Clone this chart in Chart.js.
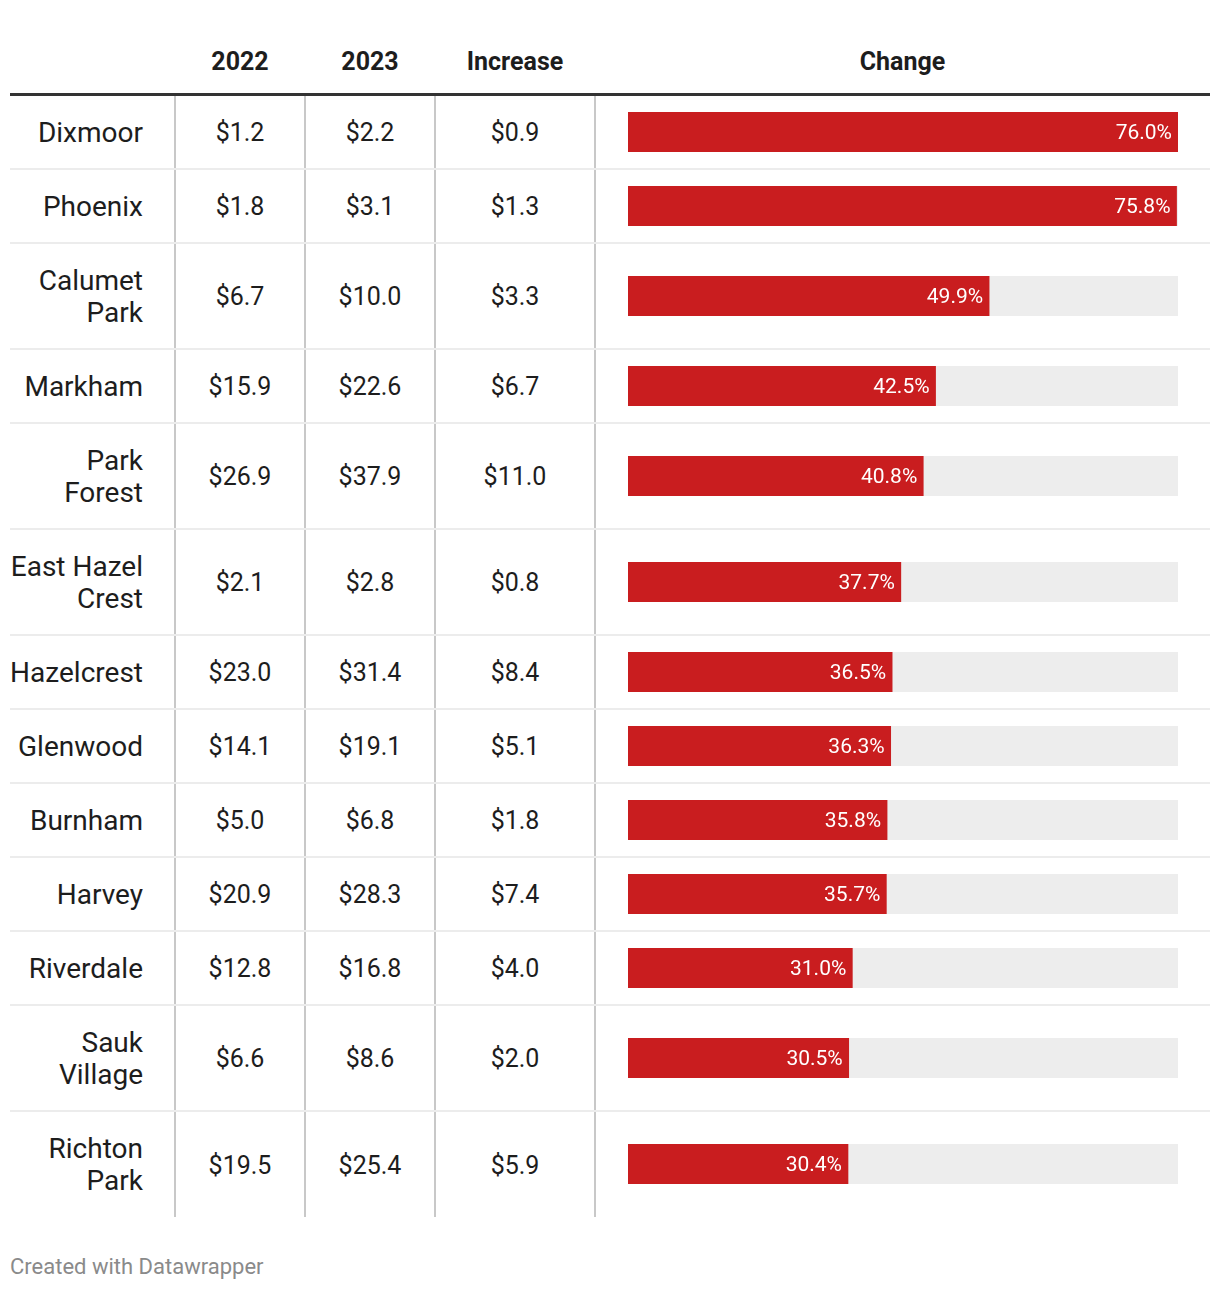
<!DOCTYPE html>
<html>
<head>
<meta charset="utf-8">
<script src="https://cdn.jsdelivr.net/npm/chart.js@4"></script>
<style>
  body { margin: 0; background: #fff; font-family: Roboto, 'Noto Sans', sans-serif; color: #1d1d1d; }
  #wrap { position: absolute; left: 10px; top: 10px; width: 1200px; }
  table { border-collapse: collapse; width: 1200px; table-layout: fixed; }
  th { font-weight: 700; font-size: 25px; height: 66px; vertical-align: bottom; padding: 0 0 17px 0;
       border-bottom: 3px solid #333; text-align: center; }
  td { font-size: 25px; padding: 2px 0 0 0; vertical-align: middle; text-align: center;
       border-bottom: 2px solid #ececec; }
  tr:last-child td { border-bottom: none; }
  td.name { text-align: right; padding-left: 0; padding-right: 31px; font-size: 28px; line-height: 32px; white-space: pre; }
  td.v { border-right: 2px solid #c8c8c8; }
  .bar { position: relative; width: 550px; height: 40px; margin-left: 32px; margin-top: -2px; }
  #foot { position: absolute; left: 10px; top: 1254px; font-size: 22px; color: #8a8a8a; }
</style>
</head>
<body>
<div id="wrap">
  <table>
    <colgroup>
      <col style="width:165px"><col style="width:130px"><col style="width:130px"><col style="width:160px"><col style="width:615px">
    </colgroup>
    <thead><tr id="head"></tr></thead>
    <tbody id="rows"></tbody>
  </table>
</div>
<div id="foot">Created with Datawrapper</div>
<script>
// Column headers
const headers = ['', '2022', '2023', 'Increase', 'Change'];

// Rows (names with line breaks as in the table)
const towns = ['Dixmoor', 'Phoenix', 'Calumet\nPark', 'Markham', 'Park\nForest', 'East Hazel\nCrest',
    'Hazelcrest', 'Glenwood', 'Burnham', 'Harvey', 'Riverdale', 'Sauk\nVillage', 'Richton\nPark'];
const val2022 = [1.2, 1.8, 6.7, 15.9, 26.9, 2.1, 23.0, 14.1, 5.0, 20.9, 12.8, 6.6, 19.5];
const val2023 = [2.2, 3.1, 10.0, 22.6, 37.9, 2.8, 31.4, 19.1, 6.8, 28.3, 16.8, 8.6, 25.4];
const increase = [0.9, 1.3, 3.3, 6.7, 11.0, 0.8, 8.4, 5.1, 1.8, 7.4, 4.0, 2.0, 5.9];
const change = [76.0, 75.8, 49.9, 42.5, 40.8, 37.7, 36.5, 36.3, 35.8, 35.7, 31.0, 30.5, 30.4];

const barRed = '#c91d1f';
const trackGrey = '#ededed';
const maxChange = Math.max(...change);

const money = v => '$' + v.toFixed(1);

// header
const head = document.getElementById('head');
headers.forEach(h => {
    const th = document.createElement('th');
    th.textContent = h;
    head.appendChild(th);
});

// body
const tbody = document.getElementById('rows');
towns.forEach((t, i) => {
    const tr = document.createElement('tr');
    const lines = t.split('\n').length;
    tr.style.height = (lines > 1 ? 106 : 74) + 'px';
    tr.innerHTML =
        '<td class="name v"></td>' +
        '<td class="v">' + money(val2022[i]) + '</td>' +
        '<td class="v">' + money(val2023[i]) + '</td>' +
        '<td class="v">' + money(increase[i]) + '</td>' +
        '<td><div class="bar"><canvas id="bar' + i + '"></canvas></div></td>';
    tr.querySelector('.name').textContent = t;
    tbody.appendChild(tr);
});

// value label inside the end of the red bar
const endLabel = {
    id: 'endLabel',
    afterDatasetsDraw(chart) {
        const c = chart.ctx;
        const el = chart.getDatasetMeta(0).data[0];
        const v = chart.data.datasets[0].data[0];
        c.save();
        c.font = '21px Roboto, sans-serif';
        c.fillStyle = '#fff';
        c.textAlign = 'right';
        c.textBaseline = 'middle';
        c.fillText(v.toFixed(1) + '%', el.x - 6, el.y + 2);
        c.restore();
    }
};

// one small horizontal bar chart per row
change.forEach((v, i) => {
    new Chart(document.getElementById('bar' + i), {
        type: 'bar',
        data: {
            labels: [towns[i]],
            datasets: [
                { data: [v], backgroundColor: barRed, grouped: false, borderWidth: 0,
                  barPercentage: 1, categoryPercentage: 1 },
                { data: [maxChange], backgroundColor: trackGrey, grouped: false, borderWidth: 0,
                  barPercentage: 1, categoryPercentage: 1 }
            ]
        },
        options: {
            indexAxis: 'y',
            responsive: true,
            maintainAspectRatio: false,
            animation: false,
            layout: { padding: 0 },
            plugins: { legend: { display: false }, tooltip: { enabled: false } },
            scales: {
                x: { display: false, min: 0, max: maxChange },
                y: { display: false }
            }
        },
        plugins: [endLabel]
    });
});
</script>
</body>
</html>
